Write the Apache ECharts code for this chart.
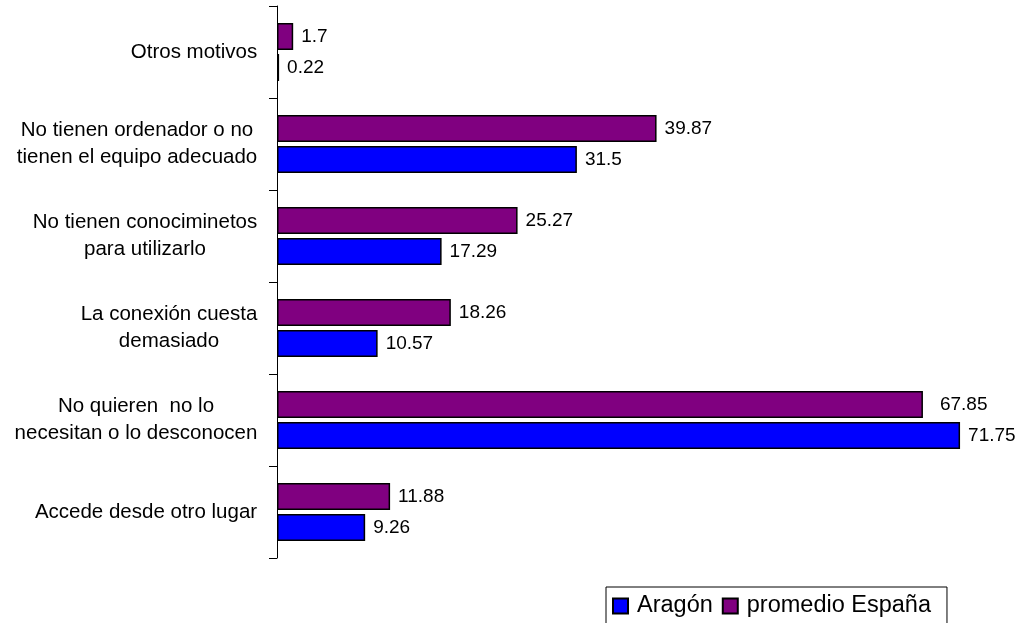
<!DOCTYPE html>
<html>
<head>
<meta charset="utf-8">
<script src="https://cdn.jsdelivr.net/npm/echarts@6/dist/echarts.min.js"></script>
<style>
  html, body { margin: 0; padding: 0; background: #fff; }
  #chart { width: 1031px; height: 623px; }
</style>
</head>
<body>
<div id="chart"></div>
<script>
// Categories, listed bottom to top
const categories = [
  'Accede desde otro lugar',
  'No quieren  no lo\nnecesitan o lo desconocen',
  'La conexión cuesta\ndemasiado',
  'No tienen conociminetos\npara utilizarlo',
  'No tienen ordenador o no\ntienen el equipo adecuado',
  'Otros motivos'
];
const seriesNames = ['Aragón', 'promedio España'];
const aragon = [9.26, 71.75, 10.57, 17.29, 31.5, 0.22];
const espana = [11.88, 67.85, 18.26, 25.27, 39.87, 1.7];

const FONT = 'Liberation Sans, Arial, sans-serif';
const CAT_SIZE = 20.5;

// Multi-line category labels: block right-aligned at the axis, lines centred within it.
const measureCtx = document.createElement('canvas').getContext('2d');
measureCtx.font = CAT_SIZE + 'px ' + FONT;
const rich = {};
categories.forEach((c, i) => {
  const w = Math.max(...c.split('\n').map(l => measureCtx.measureText(l).width));
  rich['c' + i] = { width: Math.ceil(w) + 1, align: 'center', fontSize: CAT_SIZE, fontFamily: FONT, color: '#000', lineHeight: 27 };
});

const chart = echarts.init(document.getElementById('chart'));
const labelStyle = {
  show: true,
  position: 'right',
  distance: 8,
  color: '#000',
  fontSize: 19,
  fontFamily: FONT
};
chart.setOption({
  animation: false,
  backgroundColor: '#fff',
  grid: { left: 277, top: 6, width: 714, height: 552, outerBoundsMode: 'none' },
  xAxis: { type: 'value', min: 0, max: 75, show: false },
  yAxis: {
    type: 'category',
    data: categories,
    axisLine: { show: true, lineStyle: { color: '#000', width: 1 } },
    axisTick: { show: true, length: 8, lineStyle: { color: '#000' } },
    axisLabel: {
      margin: 19,
      align: 'right',
      formatter: (val, idx) => val.split('\n').map(l => '{c' + idx + '|' + l + '}').join('\n'),
      rich: rich
    },
    splitLine: { show: false }
  },
  legend: {
    data: seriesNames,
    left: 606,
    top: 587,
    padding: [7, 16, 12, 6],
    borderColor: '#000',
    borderWidth: 1,
    itemWidth: 15,
    itemHeight: 15,
    itemGap: 9,
    icon: 'rect',
    textStyle: { color: '#000', fontSize: 23.5, fontFamily: FONT, padding: [0, 0, 0, 4] }
  },
  series: [
    {
      name: seriesNames[1],
      type: 'bar',
      data: espana.map((v, i) => i === 1 ? { value: v, label: { distance: 17 } } : v),
      barWidth: 27,
      barGap: '15%',
      itemStyle: { color: '#800080', borderColor: '#000', borderWidth: 1.5 },
      label: labelStyle
    },
    {
      name: seriesNames[0],
      type: 'bar',
      data: aragon,
      barWidth: 27,
      barGap: '15%',
      itemStyle: { color: '#0000ff', borderColor: '#000', borderWidth: 1.5 },
      label: labelStyle
    }
  ]
});
</script>
</body>
</html>
